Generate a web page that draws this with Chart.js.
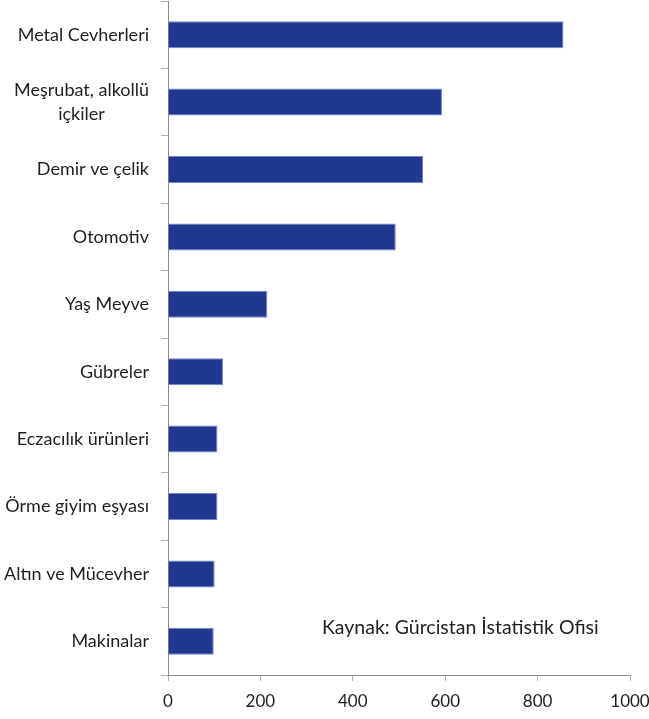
<!DOCTYPE html>
<html>
<head>
<meta charset="utf-8">
<script src="https://cdn.jsdelivr.net/npm/chart.js@4.4.0/dist/chart.umd.min.js"></script>
<style>
  html, body { margin: 0; padding: 0; background: #fff; }
  #wrap { position: relative; width: 649px; height: 719px; }
</style>
</head>
<body>
<div id="wrap"><canvas id="chart"></canvas></div>
<script>
// Categories and values
const categories = [
  'Metal Cevherleri',
  ['Meşrubat, alkollü', 'içkiler'],
  'Demir ve çelik',
  'Otomotiv',
  'Yaş Meyve',
  'Gübreler',
  'Eczacılık ürünleri',
  'Örme giyim eşyası',
  'Altın ve Mücevher',
  'Makinalar'
];
const values = [856, 593, 552, 493, 215, 119, 107, 107, 101, 99];
const xTicks = [0, 200, 400, 600, 800, 1000];
const sourceNote = 'Kaynak: Gürcistan İstatistik Ofisi';

const FONT = 'Lato, "Open Sans", sans-serif';
const TEXT = '#1f1f1f';

// Draws the category labels so the wrapped label stays centred on itself
const yLabels = {
  id: 'yLabels',
  afterDraw(chart) {
    const ctx = chart.ctx;
    const scale = chart.scales.y;
    const right = scale.right - 19;
    ctx.save();
    ctx.font = '18px ' + FONT;
    ctx.fillStyle = TEXT;
    ctx.textBaseline = 'middle';
    categories.forEach((label, i) => {
      const y = scale.getPixelForTick(i);
      const lines = Array.isArray(label) ? label : [label];
      const lh = 24;
      const widths = lines.map(l => ctx.measureText(l).width);
      const maxW = Math.max(...widths);
      ctx.textAlign = 'center';
      lines.forEach((l, j) => {
        ctx.fillText(l, right - maxW / 2, y + (j - (lines.length - 1) / 2) * lh);
      });
    });
    // source note
    ctx.font = '19.5px ' + FONT;
    ctx.textAlign = 'left';
    ctx.fillText(sourceNote, 322, scale.getPixelForTick(9) - 14);
    ctx.restore();
  }
};

new Chart(document.getElementById('chart'), {
  type: 'bar',
  data: {
    labels: categories,
    datasets: [{
      data: values,
      backgroundColor: '#213891',
      borderColor: '#7386c6',
      borderWidth: 1,
      borderSkipped: 'start',
      categoryPercentage: 0.4,
      barPercentage: 1.0
    }]
  },
  options: {
    indexAxis: 'y',
    responsive: true,
    maintainAspectRatio: false,
    animation: false,
    layout: { padding: { top: 1, right: 0, bottom: 0, left: 0 } },
    plugins: { legend: { display: false }, tooltip: { enabled: false } },
    scales: {
      x: {
        min: 0,
        max: 1000,
        afterBuildTicks: s => { s.ticks = xTicks.map(v => ({ value: v })); },
        grid: { drawOnChartArea: false, color: '#b0b0b0', tickLength: 6 },
        border: { color: '#8c8c8c', width: 1 },
        ticks: {
          color: TEXT,
          font: { family: FONT, size: 17 },
          padding: 10,
          callback: v => String(v)
        },
        afterFit: s => { s.height = 44; s.paddingRight = 19; }
      },
      y: {
        grid: { drawOnChartArea: false, color: '#b0b0b0', tickLength: 7, offset: true },
        border: { color: '#8c8c8c', width: 1 },
        ticks: { display: false },
        afterFit: s => { s.width = 168; }
      }
    }
  },
  plugins: [yLabels]
});
</script>
</body>
</html>
